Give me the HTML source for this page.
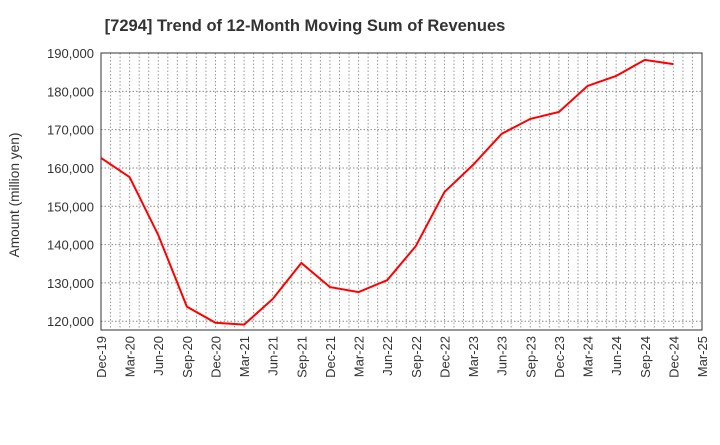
<!DOCTYPE html>
<html><head><meta charset="utf-8"><style>
body{margin:0;background:#fff;font-family:"Liberation Sans",sans-serif}
</style></head><body>
<svg id="chart" width="720" height="440" xmlns="http://www.w3.org/2000/svg" font-family="Liberation Sans, sans-serif">
<text x="305" y="31" text-anchor="middle" font-size="16.5" font-weight="bold" fill="#333">[7294]  Trend of 12-Month Moving Sum of Revenues</text>
<text transform="translate(19,195) rotate(-90)" text-anchor="middle" font-size="13.7" fill="#333">Amount (million yen)</text>
<g id="grid"></g><g id="axes"></g><g id="series"></g>
</svg>
<script>
const categories=["Dec-19","Mar-20","Jun-20","Sep-20","Dec-20","Mar-21","Jun-21","Sep-21","Dec-21","Mar-22","Jun-22","Sep-22","Dec-22","Mar-23","Jun-23","Sep-23","Dec-23","Mar-24","Jun-24","Sep-24","Dec-24","Mar-25"];
const revenues=[162600,157600,142500,123800,119600,119100,125800,135200,128900,127600,130700,139600,153700,160800,168900,172800,174600,181400,184000,188200,187100];
const yTicks=[120000,130000,140000,150000,160000,170000,180000,190000];
const L=101,R=702,T=53,B=330,yMin=117700,yMax=190000;
const NS="http://www.w3.org/2000/svg";
const xs=i=>L+(R-L)*i/(categories.length-1);
const ys=v=>B-(v-yMin)/(yMax-yMin)*(B-T);
function mk(tag,attrs,parent){const e=document.createElementNS(NS,tag);for(const k in attrs)e.setAttribute(k,attrs[k]);parent.appendChild(e);return e;}
const grid=document.getElementById('grid'),axes=document.getElementById('axes'),series=document.getElementById('series');
const months=(categories.length-1)*3;
for(let m=1;m<months;m++){const x=L+(R-L)*m/months;
const g=mk('line',{x1:x,x2:x,y1:T,y2:B,stroke:'#999','stroke-dasharray':'1.5,2','stroke-width':1},grid);

}
yTicks.forEach(v=>{const y=ys(v);
const g=mk('line',{x1:L,x2:R,y1:y,y2:y,stroke:'#888','stroke-dasharray':'1.5,2','stroke-width':1},grid);


const t=mk('text',{x:L-7,y:y+5,'text-anchor':'end','font-size':13,fill:'#333'},axes);t.textContent=v.toLocaleString('en-US');

});
const fr=mk('rect',{x:L,y:T,width:R-L,height:B-T,fill:'none',stroke:'#333','stroke-width':1},axes);


categories.forEach((c,i)=>{const x=xs(i);
const t=mk('text',{transform:`translate(${x+5},${B+6}) rotate(-90)`,'text-anchor':'end','font-size':13,fill:'#333'},axes);t.textContent=c;

});
const pl=mk('polyline',{points:revenues.map((v,i)=>xs(i)+','+ys(v)).join(' '),fill:'none',stroke:'#f00','stroke-width':2},series);


</script>
</body></html>
